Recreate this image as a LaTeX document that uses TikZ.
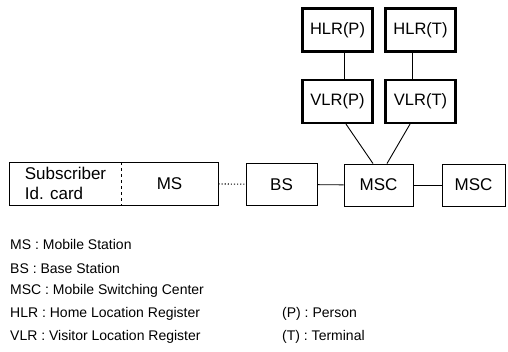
\documentclass[tikz,border=0pt]{standalone}
\usepackage{fontspec}
\setmainfont{Liberation Sans}
\usetikzlibrary{positioning}

\begin{document}
\begin{tikzpicture}[x=1pt, y=-1pt,
  box/.style={draw, line width=0.9pt, minimum height=42pt, inner sep=0pt,
    font=\fontsize{17}{20}\selectfont},
  regbox/.style={box, line width=2.2pt, minimum width=70pt, minimum height=43pt,
    font=\fontsize{16.5}{20}\selectfont},
  legend/.style={anchor=west, inner sep=0pt, font=\fontsize{14}{16}\selectfont}]
  \useasboundingbox (0,0) rectangle (508,351);
  % mobile station with card
  \node[box, draw=none, minimum width=111pt, align=left] (card) at (65.5,183.5)
    {Subscriber\\Id. card};
  \node[box, draw=none, minimum width=97pt] (ms) at (169.5,183.5) {MS};
  \draw[line width=0.9pt] (card.north west) rectangle (ms.south east);
  \draw[dashed] (card.north east) -- (card.south east);
  % network chain
  \node[box, minimum width=71pt] (bs) at (281.5,184.5) {BS};
  \node[box, minimum width=69pt] (msc) at (378.5,185) {MSC};
  \node[box, minimum width=63pt] (msc2) at (473.5,185) {MSC};
  \draw[dotted, line width=1.1pt] (ms) -- (bs);
  \draw[line width=0.9pt] (bs) -- (msc);
  \draw[line width=0.9pt] (msc) -- (msc2);
  % registers
  \node[regbox] (hlrp) at (337.5,30) {HLR(P)};
  \node[regbox] (hlrt) at (420.5,30) {HLR(T)};
  \node[regbox] (vlrp) at (337.5,101.5) {VLR(P)};
  \node[regbox] (vlrt) at (420.5,101.5) {VLR(T)};
  \draw[line width=0.9pt] ([xshift=6.5pt]hlrp.south) -- ([xshift=6.5pt]vlrp.north);
  \draw[line width=0.9pt] ([xshift=-8.5pt]hlrt.south) -- ([xshift=-8.5pt]vlrt.north);
  \draw[line width=0.9pt] ([xshift=8.5pt]vlrp.south) -- ([xshift=-5.5pt]msc.north);
  \draw[line width=0.9pt] ([xshift=-10.5pt]vlrt.south) -- ([xshift=8.5pt]msc.north);
  % legend
  \node[legend] (lms) at (10,244) {MS : Mobile Station};
  \node[legend] (lbs) at (10,268) {BS : Base Station};
  \node[legend] (lmsc) at (10,291) {MSC : Mobile Switching Center};
  \node[legend] (lhlr) at (10,314) {HLR : Home Location Register};
  \node[legend] (lvlr) at (10,337) {VLR : Visitor Location Register};
  \node[legend] (lp) at (282,314) {(P) : Person};
  \node[legend] (lt) at (282,337) {(T) : Terminal};
\end{tikzpicture}
\end{document}
